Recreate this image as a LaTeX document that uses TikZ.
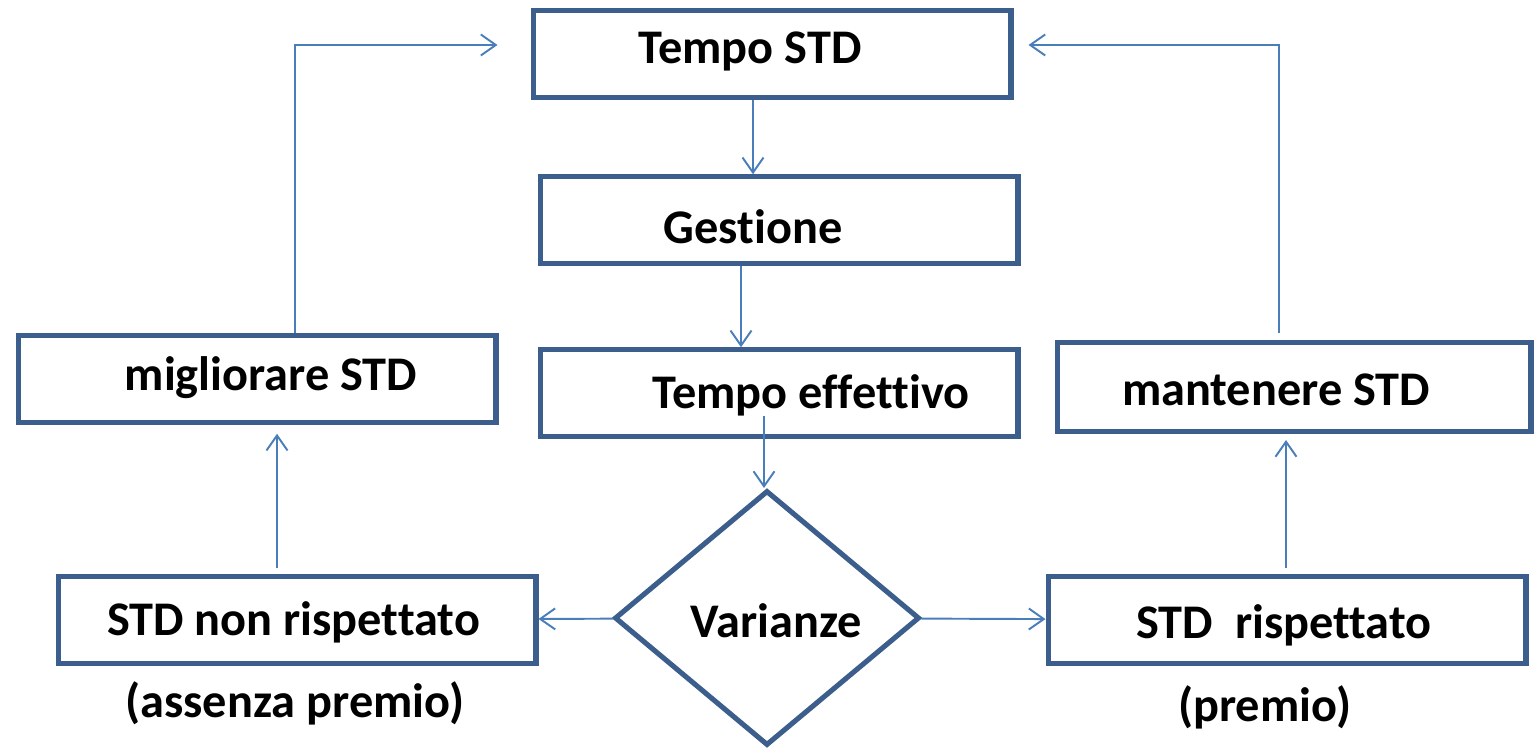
\documentclass[tikz,border=0pt]{standalone}
\usepackage{fontspec}
\setmainfont[Ligatures={NoCommon,NoContextual}]{Carlito}
\usepackage{xcolor}
\usetikzlibrary{arrows.meta}
\usetikzlibrary{shapes.geometric,calc}
\definecolor{boxblue}{HTML}{3C5E8C}
\definecolor{lineblue}{HTML}{4A7EBB}

\begin{document}
\begin{tikzpicture}[x=0.02cm,y=-0.02cm]
  \tikzset{box/.style = {shape=rectangle,draw=boxblue,line width=2.9pt,minimum width=9.56cm,minimum height=1.73cm,inner sep=0pt}}
  \tikzset{rombo/.style = {shape=diamond,draw=boxblue,line width=2.9pt,minimum width=6.1cm,minimum height=5.1cm,inner sep=0pt}}
  \tikzset{txt/.style = {font=\fontsize{27.5}{32}\selectfont\bfseries,text height=17.7pt,text depth=0pt,inner sep=0pt}}
  \tikzset{edge/.style = {draw=lineblue,line width=1.1pt,-{Straight Barb[length=0.3cm,width=0.42cm,line width=1.1pt]}}}

  \useasboundingbox (0,0) rectangle (1537,749);

	\node[box,label={[txt,xshift=-0.44cm,yshift=0.13cm]center:Tempo STD}] (tempo) at (772,54) {};
	\node[box,label={[txt,xshift=-0.52cm,yshift=-0.16cm]center:Gestione}] (gest) at (779,220) {};
	\node[box,label={[txt,xshift=0.64cm]center:Tempo effettivo}] (eff) at (779,393) {};
	\node[rombo,label={[txt,xshift=0.19cm,yshift=-0.07cm]center:Varianze}] (var) at (767,618) {};

	\node[box,label={[txt,xshift=0.28cm,yshift=0.09cm]center:migliorare STD}] (migl) at (257,379) {};
	\node[box,label={[txt,xshift=-0.07cm]center:STD non rispettato}] (nonr) at (297,620) {};
	\node[txt] (nota1) at (295,702) {(assenza premio)};

	\node[box,minimum width=9.48cm,minimum height=1.78cm,label={[txt,xshift=-0.36cm,yshift=-0.06cm]center:mantenere STD}] (mant) at (1294,387) {};
	\node[box,label={[txt,xshift=-0.06cm,yshift=-0.05cm]center:STD~~rispettato}] (risp) at (1287,620) {};
	\node[txt] (nota2) at (1265,706) {(premio)};

    \draw[edge] ($(tempo.south)+(-19,0)$) -- ($(gest.north)+(-26,0)$);
    \draw[edge] ($(gest.south)+(-38,0)$) -- ($(eff.north)+(-38,0)$);
    \draw[edge] ($(eff.center)+(-15,23)$) -- ($(var.north)+(-3,0)$);

    \foreach \from/\to in {var/nonr,var/risp}
    \draw[edge] (\from) -- (\to);

    \draw[edge,shorten <=0.12cm,shorten >=0.18cm] ($(nonr.north)+(-20,0)$) -- ($(migl.south)+(20,0)$);
    \draw[edge,shorten <=0.12cm,shorten >=0.12cm] ($(risp.north)+(-1,0)$) -- ($(mant.south)+(-8,0)$);

    \draw[edge] ($(migl.north)+(38,0)$) |- ($(tempo.west)+(-33,-9)$);
    \draw[edge,shorten <=0.14cm] ($(mant.north)+(-15,0)$) |- ($(tempo.east)+(15,-9)$);

\end{tikzpicture}
\end{document}
